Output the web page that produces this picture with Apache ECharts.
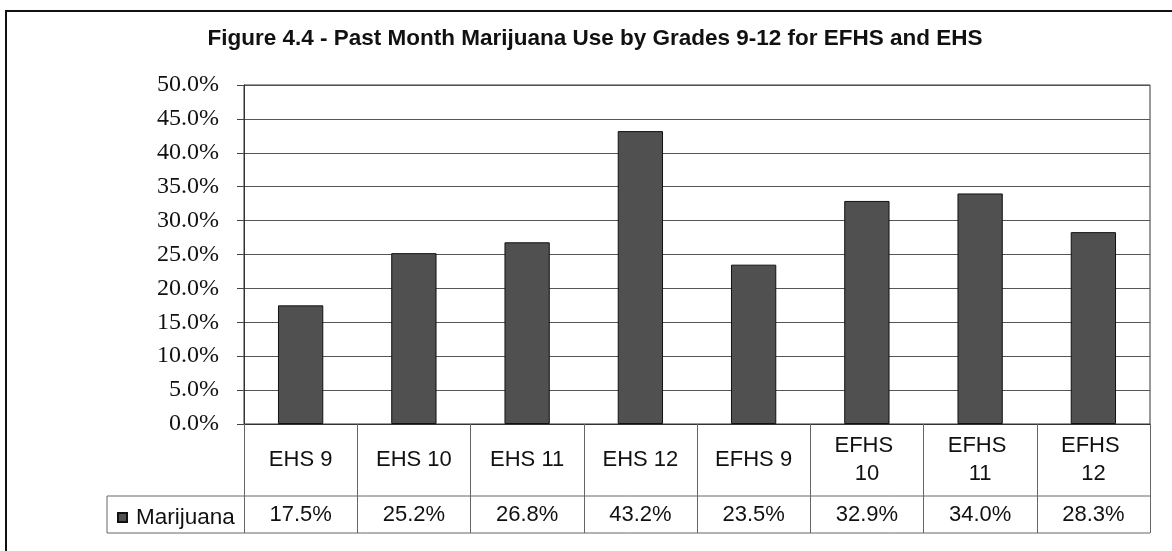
<!DOCTYPE html>
<html>
<head>
<meta charset="utf-8">
<style>
  html, body { margin: 0; padding: 0; background: #fff; }
  #chart { width: 1172px; height: 551px; }
</style>
<script src="https://cdn.jsdelivr.net/npm/echarts@6/dist/echarts.min.js"></script>
</head>
<body>
<div id="chart"></div>
<script>
// Past-month marijuana use by school and grade (percent of students)
const titleText = 'Figure 4.4 - Past Month Marijuana Use by Grades 9-12 for EFHS and EHS';
const categories = ['EHS 9', 'EHS 10', 'EHS 11', 'EHS 12', 'EFHS 9', 'EFHS 10', 'EFHS 11', 'EFHS 12'];
const seriesName = 'Marijuana';
const marijuana = [17.5, 25.2, 26.8, 43.2, 23.5, 32.9, 34.0, 28.3];
const yMin = 0, yMax = 50, yStep = 5;

const pct = v => v.toFixed(1) + '%';

const chart = echarts.init(document.getElementById('chart'), null, { renderer: 'canvas' });

// plot box and data-table rows
const G = { left: 244, right: 22, top: 85, bottom: 127 };
const rowCatBottom = 496, rowValBottom = 533, legendCellLeft = 107;
const plotBottom = 551 - G.bottom;
const lineColor = '#666';

chart.setOption({
  animation: false,
  backgroundColor: '#fff',
  title: {
    text: titleText,
    left: 590, top: 22, textAlign: 'center',
    textStyle: { fontFamily: 'Liberation Sans, Arial, sans-serif', fontSize: 22.5, fontWeight: 'bold', color: '#111' }
  },
  legend: {
    data: [seriesName],
    left: 112, top: rowCatBottom + 5,
    icon: 'rect', itemWidth: 9, itemHeight: 9,
    textStyle: { fontFamily: 'Liberation Sans, Arial, sans-serif', fontSize: 22.5, color: '#111', padding: [0, 0, 0, 4] }
  },
  grid: {
    left: G.left, right: G.right, top: G.top, bottom: G.bottom,
    show: true, borderColor: '#333', borderWidth: 1
  },
  xAxis: [
    {
      type: 'category', data: categories, position: 'bottom',
      axisLine: { lineStyle: { color: '#333', width: 1 } },
      axisTick: { show: true, length: rowValBottom - plotBottom, lineStyle: { color: lineColor } },
      axisLabel: {
        margin: (rowCatBottom - plotBottom) / 2, verticalAlign: 'middle',
        width: 86, overflow: 'break', lineHeight: 28, interval: 0,
        fontFamily: 'Liberation Sans, Arial, sans-serif', fontSize: 22, color: '#111'
      }
    },
    {
      type: 'category', data: marijuana.map(pct), position: 'bottom',
      axisLine: { show: false }, axisTick: { show: false },
      axisLabel: {
        margin: (rowCatBottom + rowValBottom) / 2 - plotBottom, verticalAlign: 'middle', interval: 0,
        fontFamily: 'Liberation Sans, Arial, sans-serif', fontSize: 22, color: '#111'
      }
    }
  ],
  yAxis: {
    type: 'value', min: yMin, max: yMax, interval: yStep,
    axisLine: { show: true, lineStyle: { color: '#333' } },
    axisTick: { show: true, length: 7, lineStyle: { color: '#444' } },
    splitLine: { show: true, lineStyle: { color: '#555', width: 1 } },
    axisLabel: {
      formatter: pct, margin: 25,
      fontFamily: 'Liberation Serif, Times New Roman, serif', fontSize: 24, color: '#111'
    }
  },
  series: [{
    name: seriesName, type: 'bar', xAxisIndex: 0, data: marijuana,
    barWidth: '40%',
    itemStyle: { color: '#505050', borderColor: '#111', borderWidth: 1 }
  }],
  graphic: [
    // outer frame
    { type: 'rect', shape: { x: 6, y: 11, width: 1190, height: 545 },
      style: { fill: 'none', stroke: '#111', lineWidth: 2 }, silent: true },
    // data table rules
    { type: 'line', shape: { x1: legendCellLeft, y1: rowCatBottom, x2: 1172 - G.right, y2: rowCatBottom },
      style: { stroke: lineColor, lineWidth: 1 }, silent: true },
    { type: 'line', shape: { x1: legendCellLeft, y1: rowValBottom, x2: 1172 - G.right, y2: rowValBottom },
      style: { stroke: lineColor, lineWidth: 1 }, silent: true },
    { type: 'line', shape: { x1: legendCellLeft, y1: rowCatBottom, x2: legendCellLeft, y2: rowValBottom },
      style: { stroke: lineColor, lineWidth: 1 }, silent: true }
  ]
});
</script>
</body>
</html>
